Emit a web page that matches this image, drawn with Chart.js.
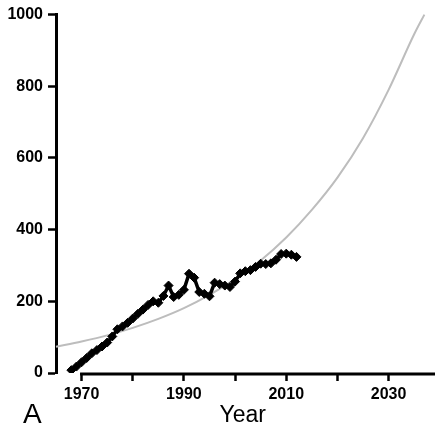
<!DOCTYPE html>
<html>
<head>
<meta charset="utf-8">
<script src="https://cdn.jsdelivr.net/npm/chart.js@4.4.1/dist/chart.umd.min.js"></script>
<style>
  html, body { margin: 0; padding: 0; background: #fff; }
  #wrap { width: 435px; height: 429px; position: relative; }
</style>
</head>
<body>
<div id="wrap"><canvas id="grafico"></canvas></div>
<script>
// valores
const anos = [1968, 1969, 1970, 1971, 1972, 1973, 1974, 1975, 1976, 1977,
              1978, 1979, 1980, 1981, 1982, 1983, 1984, 1985, 1986, 1987,
              1988, 1989, 1990, 1991, 1992, 1993, 1994, 1995, 1996, 1997,
              1998, 1999, 2000, 2001, 2002, 2003, 2004, 2005, 2006, 2007,
              2008, 2009, 2010, 2011, 2012];
const valores = [8, 18, 30, 42, 55, 64, 74, 85, 102, 122,
                 130, 140, 152, 165, 177, 190, 200, 196, 215, 244,
                 212, 218, 232, 277, 266, 226, 221, 214, 252, 248,
                 244, 240, 255, 278, 284, 287, 296, 305, 304, 306,
                 316, 332, 333, 330, 324];

// curva cinza (ajuste)
const anosCurva = [1965, 1970, 1975, 1980, 1985, 1990, 1995, 2000, 2005,
                   2010, 2015, 2020, 2025, 2030, 2035, 2037];
const valoresCurva = [73, 88, 105, 126, 151, 181, 218, 262, 314,
                      378, 455, 545, 655, 790, 945, 1000];

const ticksX = [1970, 1980, 1990, 2000, 2010, 2020, 2030];
const rotulosX = [1970, 1990, 2010, 2030];
const ticksY = [0, 200, 400, 600, 800, 1000];

const fonte = 'Liberation Sans, Arial, sans-serif';

// linha do eixo x começando em 1970 e a letra do painel
const eixoPlugin = {
    id: 'eixoX',
    afterDraw(chart) {
        const ctx = chart.ctx;
        const x = chart.scales.x;
        const area = chart.chartArea;
        ctx.save();
        ctx.strokeStyle = '#000';
        ctx.lineWidth = 3;
        ctx.beginPath();
        ctx.moveTo(x.getPixelForValue(ticksX[0]) - 1.5, area.bottom + 1);
        ctx.lineTo(chart.width, area.bottom + 1);
        ctx.stroke();
        ctx.fillStyle = '#000';
        ctx.font = '28px ' + fonte;
        ctx.textBaseline = 'alphabetic';
        ctx.fillText('A', 23, 423);
        ctx.restore();
    }
};

new Chart(document.getElementById('grafico'), {
    type: 'line',
    data: {
        datasets: [{
            label: 'curva',
            data: anosCurva.map((a, i) => ({ x: a, y: valoresCurva[i] })),
            borderColor: '#bdbdbd',
            borderWidth: 2,
            pointRadius: 0,
            cubicInterpolationMode: 'monotone',
            clip: false,
            order: 2
        }, {
            label: 'dados',
            data: anos.map((a, i) => ({ x: a, y: valores[i] })),
            borderColor: '#000',
            backgroundColor: '#000',
            borderWidth: 3.5,
            pointStyle: 'rectRot',
            pointRadius: 4.5,
            pointBorderWidth: 1,
            tension: 0,
            order: 1
        }]
    },
    options: {
        responsive: true,
        maintainAspectRatio: false,
        animation: false,
        layout: { padding: { top: 13, right: 0, bottom: 0, left: 0 } },
        plugins: {
            legend: { display: false },
            tooltip: { enabled: false }
        },
        scales: {
            x: {
                type: 'linear',
                min: 1965,
                max: 2038,
                afterBuildTicks: s => { s.ticks = ticksX.map(v => ({ value: v })); },
                afterFit: s => { s.height = 56; },
                border: { display: false },
                grid: {
                    drawOnChartArea: false,
                    drawTicks: true,
                    tickLength: 8,
                    tickWidth: 2.5,
                    tickColor: '#000'
                },
                ticks: {
                    autoSkip: false,
                    maxRotation: 0,
                    padding: 4,
                    color: '#000',
                    font: { family: fonte, size: 16, weight: 'bold' },
                    callback: v => rotulosX.includes(v) ? String(v) : ''
                },
                title: {
                    display: true,
                    text: 'Year',
                    color: '#000',
                    font: { family: fonte, size: 23 },
                    padding: { top: 0, bottom: 0 }
                }
            },
            y: {
                min: 0,
                max: 1000,
                afterBuildTicks: s => { s.ticks = ticksY.map(v => ({ value: v })); },
                afterFit: s => { s.width = 56; },
                border: { display: true, color: '#000', width: 3 },
                grid: {
                    drawOnChartArea: false,
                    drawTicks: true,
                    tickLength: 8,
                    tickWidth: 2.5,
                    tickColor: '#000'
                },
                ticks: {
                    padding: 5,
                    color: '#000',
                    font: { family: fonte, size: 16, weight: 'bold' },
                    callback: v => String(v)
                }
            }
        }
    },
    plugins: [eixoPlugin]
});
</script>
</body>
</html>
